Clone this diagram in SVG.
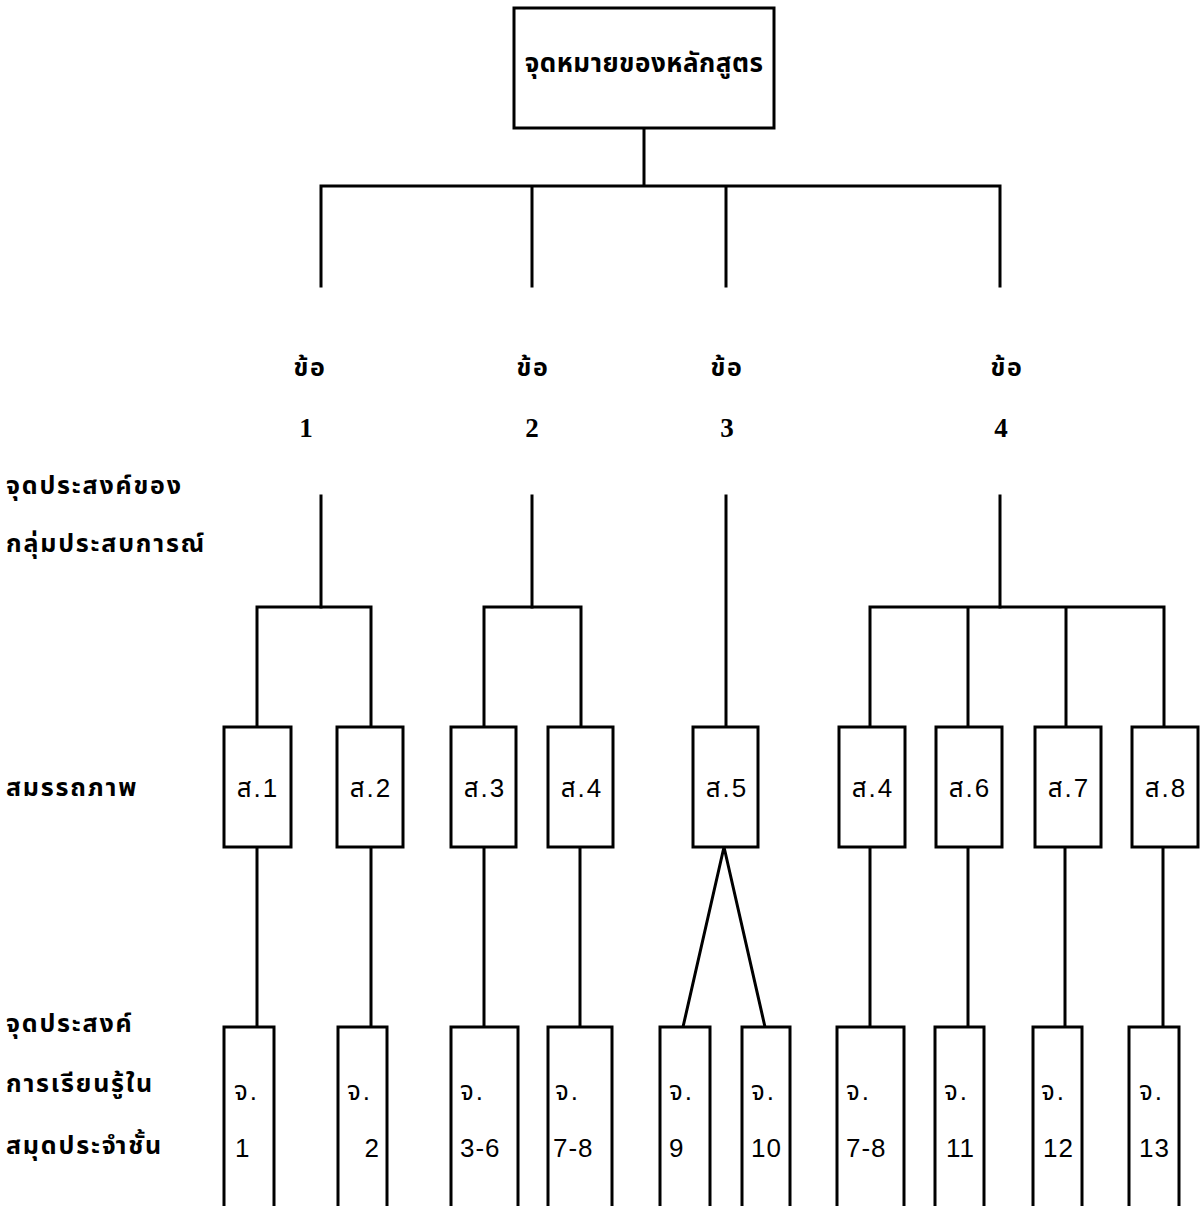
<svg xmlns="http://www.w3.org/2000/svg" width="1203" height="1206" viewBox="0 0 1203 1206">
<style>
  .box { fill: #ffffff; stroke: #000000; stroke-width: 3; }
  .ln { fill: none; stroke: #000000; stroke-width: 3; stroke-linecap: square; }
  .th { font-family: "Noto Sans Thai", "Loma", "Garuda", "Tahoma", "DejaVu Sans", "Noto Sans", sans-serif; font-weight: bold; fill: #000000; }
  .lbl { font-size: 25px; letter-spacing: 1.8px; }
  .num { font-family: "Liberation Serif", serif; font-weight: bold; font-size: 27px; fill: #000000; text-anchor: middle; }
  .bx { font-family: "Liberation Sans", "Noto Sans Thai", sans-serif; font-size: 26px; fill: #000000; letter-spacing: 2px; }
  .nm { font-family: "Liberation Sans", sans-serif; font-size: 26px; fill: #000000; letter-spacing: 1px; }
  .mid { text-anchor: middle; }
  .end { text-anchor: end; }
</style>
<rect width="1203" height="1206" fill="#ffffff"/>

<g id="connectors">
  <path class="ln" d="M644 128 V186 M321 186 H1000 M321 186 V286 M532 186 V286 M726 186 V286 M1000 186 V286"/>
  <path class="ln" d="M321 496 V607 M532 496 V607 M726 496 V727 M1000 496 V607"/>
  <path class="ln" d="M257 607 H371 M257 607 V727 M371 607 V727"/>
  <path class="ln" d="M484 607 H581 M484 607 V727 M581 607 V727"/>
  <path class="ln" d="M870 607 H1164 M870 607 V727 M968 607 V727 M1066 607 V727 M1164 607 V727"/>
  <path class="ln" d="M257 847 V1027 M371 847 V1027 M484 847 V1027 M580 847 V1027 M870 847 V1027 M968 847 V1027 M1065 847 V1027 M1163 847 V1027"/>
  <path class="ln" d="M724 847 L683 1027 M724 847 L765 1027"/>
</g>

<g id="goal">
  <rect class="box" x="514" y="8" width="260" height="120"/>
  <text class="th mid" x="644" y="72" font-size="26" letter-spacing="0.5">จุดหมายของหลักสูตร</text>
</g>

<g id="row-labels">
  <text class="th lbl" x="6" y="494">จุดประสงค์ของ</text>
  <text class="th lbl" x="6" y="552">กลุ่มประสบการณ์</text>
  <text class="th lbl" x="6" y="796">สมรรถภาพ</text>
  <text class="th lbl" x="6" y="1032">จุดประสงค์</text>
  <text class="th lbl" x="6" y="1092">การเรียนรู้ใน</text>
  <text class="th lbl" x="6" y="1154">สมุดประจำชั้น</text>
</g>

<g id="item-1"><text class="th lbl mid" x="310" y="376">ข้อ</text><text class="num" x="306" y="437">1</text></g>
<g id="item-2"><text class="th lbl mid" x="533" y="376">ข้อ</text><text class="num" x="532" y="437">2</text></g>
<g id="item-3"><text class="th lbl mid" x="727" y="376">ข้อ</text><text class="num" x="727" y="437">3</text></g>
<g id="item-4"><text class="th lbl mid" x="1007" y="376">ข้อ</text><text class="num" x="1001" y="437">4</text></g>

<g id="s1"><rect class="box" x="224" y="727" width="67" height="120"/><text class="bx mid" x="258" y="797">ส.1</text></g>
<g id="s2"><rect class="box" x="337" y="727" width="66" height="120"/><text class="bx mid" x="371" y="797">ส.2</text></g>
<g id="s3"><rect class="box" x="451" y="727" width="65" height="120"/><text class="bx mid" x="485" y="797">ส.3</text></g>
<g id="s4a"><rect class="box" x="548" y="727" width="65" height="120"/><text class="bx mid" x="582" y="797">ส.4</text></g>
<g id="s5"><rect class="box" x="693" y="727" width="65" height="120"/><text class="bx mid" x="727" y="797">ส.5</text></g>
<g id="s4b"><rect class="box" x="839" y="727" width="66" height="120"/><text class="bx mid" x="873" y="797">ส.4</text></g>
<g id="s6"><rect class="box" x="936" y="727" width="66" height="120"/><text class="bx mid" x="970" y="797">ส.6</text></g>
<g id="s7"><rect class="box" x="1035" y="727" width="66" height="120"/><text class="bx mid" x="1069" y="797">ส.7</text></g>
<g id="s8"><rect class="box" x="1132" y="727" width="66" height="120"/><text class="bx mid" x="1166" y="797">ส.8</text></g>

<g id="j1"><rect class="box" x="224" y="1027" width="50" height="190"/><text class="bx" x="234" y="1100">จ.</text><text class="nm" x="235" y="1157">1</text></g>
<g id="j2"><rect class="box" x="338" y="1027" width="49" height="190"/><text class="bx" x="347" y="1100">จ.</text><text class="nm end" x="380" y="1157">2</text></g>
<g id="j3-6"><rect class="box" x="451" y="1027" width="67" height="190"/><text class="bx" x="460" y="1100">จ.</text><text class="nm" x="460" y="1157">3-6</text></g>
<g id="j7-8a"><rect class="box" x="548" y="1027" width="64" height="190"/><text class="bx" x="555" y="1100">จ.</text><text class="nm" x="553" y="1157">7-8</text></g>
<g id="j9"><rect class="box" x="660" y="1027" width="50" height="190"/><text class="bx" x="669" y="1100">จ.</text><text class="nm" x="669" y="1157">9</text></g>
<g id="j10"><rect class="box" x="742" y="1027" width="48" height="190"/><text class="bx" x="751" y="1100">จ.</text><text class="nm" x="751" y="1157">10</text></g>
<g id="j7-8b"><rect class="box" x="837" y="1027" width="67" height="190"/><text class="bx" x="846" y="1100">จ.</text><text class="nm" x="846" y="1157">7-8</text></g>
<g id="j11"><rect class="box" x="935" y="1027" width="49" height="190"/><text class="bx" x="944" y="1100">จ.</text><text class="nm" x="946" y="1157">11</text></g>
<g id="j12"><rect class="box" x="1033" y="1027" width="49" height="190"/><text class="bx" x="1041" y="1100">จ.</text><text class="nm" x="1043" y="1157">12</text></g>
<g id="j13"><rect class="box" x="1129" y="1027" width="50" height="190"/><text class="bx" x="1139" y="1100">จ.</text><text class="nm" x="1139" y="1157">13</text></g>
</svg>
